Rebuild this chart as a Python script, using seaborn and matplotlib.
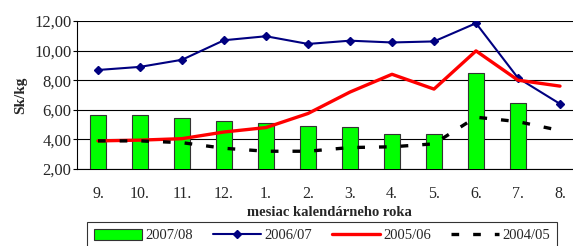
import numpy as np
import pandas as pd
import matplotlib
matplotlib.use("Agg")
import matplotlib.pyplot as plt
import seaborn as sns
from matplotlib.patches import Patch
from matplotlib.lines import Line2D
from matplotlib.ticker import FixedLocator

months = ["9.", "10.", "11.", "12.", "1.", "2.", "3.", "4.", "5.", "6.", "7.", "8."]
s2007_08 = [5.65, 5.65, 5.45, 5.25, 5.10, 4.90, 4.85, 4.35, 4.35, 8.50, 6.45, np.nan]
s2006_07 = [8.69, 8.90, 9.38, 10.70, 10.97, 10.45, 10.67, 10.55, 10.62, 11.85, 8.15, 6.40]
s2005_06 = [3.90, 3.95, 4.05, 4.50, 4.80, 5.75, 7.20, 8.40, 7.40, 9.98, 8.00, 7.60]
s2004_05 = [3.90, 3.90, 3.78, 3.40, 3.20, 3.20, 3.45, 3.50, 3.70, 5.50, 5.20, 4.60]
labels = ["2007/08", "2006/07", "2005/06", "2004/05"]

sns.set_theme(style="white")
plt.rcParams['font.family'] = ['Liberation Serif', 'DejaVu Serif']

fig = plt.figure(figsize=(5.73, 2.46), dpi=100)
ax = fig.add_axes([77/573, 1-169/246, (581-77)/573, (169-21)/246])

df = pd.DataFrame({"month": months, "v": s2007_08})
sns.barplot(data=df, x="month", y="v", order=months, color="#00FF00",
            saturation=1, width=0.4, edgecolor="#333333", linewidth=0.8, ax=ax, zorder=3)
x = np.arange(len(months))
ax.plot(x, s2006_07, color="#000080", lw=1.5, marker="D", ms=4.5, zorder=4)
ax.plot(x, s2005_06, color="#FF0000", lw=2.4, zorder=5)
ax.plot(x, s2004_05, color="black", lw=2.4, dashes=(2.3, 4.2), zorder=6)

ax.set_xlim(-0.5, 11.5)
ax.set_ylim(2, 12)
ax.set_yticks([2, 4, 6, 8, 10, 12])
ax.set_yticklabels(["2,00", "4,00", "6,00", "8,00", "10,00", "12,00"], fontsize=12)
ax.yaxis.grid(True, color="black", lw=0.8)
ax.set_axisbelow(True)
ax.set_xticks(x)
ax.set_xticklabels(months, fontsize=11.5)
ax.xaxis.set_minor_locator(FixedLocator(np.arange(-0.5, 12, 1)))
ax.tick_params(axis="x", which="major", length=0, pad=12)
ax.tick_params(axis="x", which="minor", length=4, width=0.8, color="black", direction="out")
ax.tick_params(axis="y", length=3, width=0.8, color="black", direction="out", pad=1, left=True)
for s in ["top", "right"]:
    ax.spines[s].set_visible(False)
for s in ["left", "bottom"]:
    ax.spines[s].set_color("black")
    ax.spines[s].set_linewidth(0.8)
ax.set_xlabel("mesiac kalendárneho roka", fontsize=10.5, fontweight="bold", labelpad=3)
ax.set_ylabel("Sk/kg", fontsize=11, fontweight="bold", labelpad=5)

handles = [
    Patch(facecolor="#00FF00", edgecolor="#333333", lw=0.8),
    Line2D([], [], color="#000080", lw=1.5, marker="D", ms=4.5),
    Line2D([], [], color="#FF0000", lw=2.4),
    Line2D([], [], color="black", lw=2.4, dashes=(2.3, 4.2)),
]
leg = fig.legend(handles, labels, loc="upper center", bbox_to_anchor=(322/573, 1 - 222/246),
                 ncol=4, fontsize=10.5, frameon=True, fancybox=False,
                 handlelength=3.3, handletextpad=0.25, borderpad=0.45, columnspacing=1.35,
                 handleheight=0.8, borderaxespad=0)
leg.get_frame().set_edgecolor("black")
leg.get_frame().set_linewidth(0.8)

fig.savefig("out.png", dpi=100)
